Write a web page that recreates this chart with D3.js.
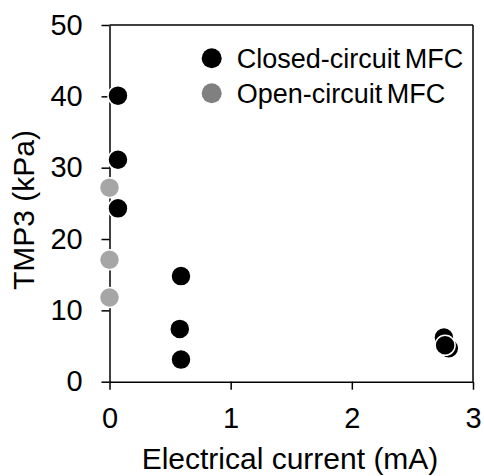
<!DOCTYPE html>
<html>
<head>
<meta charset="utf-8">
<script src="https://cdn.jsdelivr.net/npm/d3@7"></script>
<style>
  body { margin: 0; background: #fff; }
  text { font-family: "Liberation Sans", Arial, sans-serif; fill: #000; }
</style>
</head>
<body>
<div id="chart"></div>
<script>
// values
var closedX = [0.07, 0.07, 0.07, 0.59, 0.58, 0.59, 2.76, 2.80, 2.77];
var closedY = [40.1, 31.1, 24.3, 14.8, 7.4, 3.1, 6.2, 4.7, 5.1];
var openX = [0, 0, 0];
var openY = [27.2, 17.1, 11.8];
var seriesNames = ["Closed-circuit MFC", "Open-circuit MFC"];
var xTicks = [0, 1, 2, 3];
var yTicks = [0, 10, 20, 30, 40, 50];

var w = 484, h = 476;

var x = d3.scaleLinear().domain([0, 3]).range([109.5, 473]);
var y = d3.scaleLinear().domain([0, 50]).range([381.7, 25]);

var svg = d3.select("#chart")
  .append("svg")
  .attr("width", w)
  .attr("height", h);

// box lines (top and right)
svg.append("line")
  .attr("x1", x(0)).attr("x2", x(3))
  .attr("y1", y(50)).attr("y2", y(50))
  .attr("stroke", "#000").attr("stroke-width", 1.5);
svg.append("line")
  .attr("x1", x(3)).attr("x2", x(3))
  .attr("y1", y(50)).attr("y2", y(0))
  .attr("stroke", "#000").attr("stroke-width", 1.5);

// axes
var xAxis = svg.append("g")
  .attr("transform", "translate(0," + y(0) + ")")
  .call(d3.axisBottom(x).tickValues(xTicks).tickFormat(d3.format("d"))
    .tickSize(8).tickSizeOuter(0).tickPadding(18.2));
var yAxis = svg.append("g")
  .attr("transform", "translate(" + x(0) + ",0)")
  .call(d3.axisLeft(y).tickValues(yTicks).tickFormat(d3.format("d"))
    .tickSize(8).tickSizeOuter(0).tickPadding(18.8));

svg.selectAll(".domain, .tick line")
  .attr("stroke", "#000").attr("stroke-width", 1.5);
svg.selectAll(".tick text")
  .style("font-family", "'Liberation Sans', Arial, sans-serif")
  .style("font-size", "29px")
  .attr("fill", "#000");

// axis titles
svg.append("text")
  .attr("x", 290)
  .attr("y", 469)
  .attr("text-anchor", "middle")
  .style("font-size", "30px")
  .text("Electrical current (mA)");

svg.append("text")
  .attr("transform", "translate(34,210) rotate(-90)")
  .attr("text-anchor", "middle")
  .style("font-size", "30px")
  .text("TMP3 (kPa)");

// open-circuit points (drawn first)
svg.selectAll(".open")
  .data(d3.zip(openX, openY))
  .enter()
  .append("circle")
  .attr("class", "open")
  .attr("cx", function(d) { return x(d[0]); })
  .attr("cy", function(d) { return y(d[1]); })
  .attr("r", 10)
  .style("fill", "#a6a6a6")
  .attr("stroke", "#fff")
  .attr("stroke-width", 1.5);

// closed-circuit points
svg.selectAll(".closed")
  .data(d3.zip(closedX, closedY))
  .enter()
  .append("circle")
  .attr("class", "closed")
  .attr("cx", function(d) { return x(d[0]); })
  .attr("cy", function(d) { return y(d[1]); })
  .attr("r", 10)
  .style("fill", "#000")
  .attr("stroke", "#fff")
  .attr("stroke-width", 1.5);

// legend
var legendColors = ["#000", "#808080"];
var legend = svg.selectAll(".legend")
  .data(seriesNames)
  .enter()
  .append("g")
  .attr("class", "legend")
  .attr("transform", function(d, i) { return "translate(211.7," + (58.3 + i * 35) + ")"; });

legend.append("circle")
  .attr("r", 10)
  .style("fill", function(d, i) { return legendColors[i]; });

legend.append("text")
  .attr("x", 25)
  .attr("dy", "0.36em")
  .style("font-size", "27px")
  .style("word-spacing", "-3px")
  .text(function(d) { return d; });
</script>
</body>
</html>
